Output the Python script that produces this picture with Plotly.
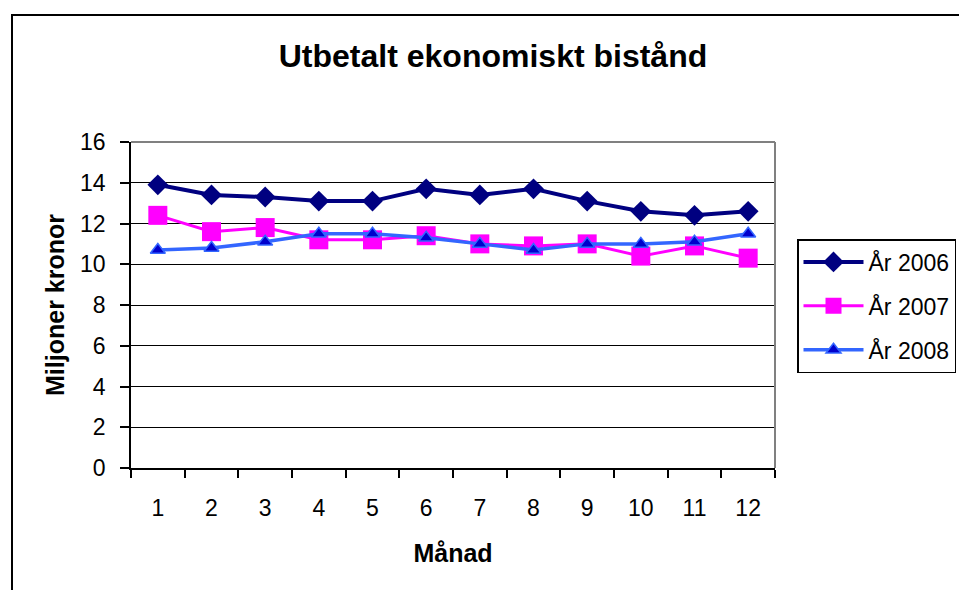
import plotly.graph_objects as go

months = ["1", "2", "3", "4", "5", "6", "7", "8", "9", "10", "11", "12"]
y2006 = [13.9, 13.4, 13.3, 13.1, 13.1, 13.7, 13.4, 13.7, 13.1, 12.6, 12.4, 12.6]
y2007 = [12.4, 11.6, 11.8, 11.2, 11.2, 11.4, 11.0, 10.9, 11.0, 10.4, 10.9, 10.3]
y2008 = [10.7, 10.8, 11.1, 11.5, 11.5, 11.3, 11.0, 10.7, 11.0, 11.0, 11.1, 11.5]
names = ["År 2006", "År 2007", "År 2008"]
ytick_vals = [0, 2, 4, 6, 8, 10, 12, 14, 16]

FONT = "Liberation Sans, Arial, sans-serif"

fig = go.Figure()
fig.add_trace(go.Scatter(
    x=months, y=y2006, name=names[0], mode="lines+markers", legendgroup="a",
    line=dict(color="#000080", width=4),
    marker=dict(symbol="diamond", size=16, color="#000080")))
fig.add_trace(go.Scatter(
    x=months, y=y2007, name=names[1], mode="lines+markers", legendgroup="b",
    line=dict(color="#FF00FF", width=3),
    marker=dict(symbol="square", size=19, color="#FF00FF")))
fig.add_trace(go.Scatter(
    x=months, y=y2008, name=names[2], mode="lines+markers", legendgroup="c",
    line=dict(color="#3366FF", width=3.5),
    marker=dict(symbol="triangle-up", size=13, color="#0000CC",
                line=dict(color="#3366FF", width=1.5))))

L, R, T, B = 131, 775, 142, 468
W, H = 959, 590
pw, ph = R - L, B - T

fig.update_layout(
    width=W, height=H,
    margin=dict(l=L, r=W - R, t=T, b=H - B, autoexpand=False),
    paper_bgcolor="white", plot_bgcolor="white",
    font=dict(family=FONT, color="black"),
    title=dict(text="<b>Utbetalt ekonomiskt bistånd</b>", x=493 / W, xanchor="center",
               y=1 - 56 / H, yanchor="middle", font=dict(size=32, family=FONT)),
    legend=dict(x=(797 - L) / pw, y=(B - 239) / ph, xanchor="left", yanchor="top",
                bordercolor="black", borderwidth=1.5, font=dict(size=23, family=FONT),
                tracegroupgap=11, bgcolor="white", itemwidth=60),
    showlegend=True,
)
fig.update_xaxes(
    type="category", categoryorder="array", categoryarray=months,
    range=[-0.5, len(months) - 0.5],
    tickson="boundaries", ticks="outside", ticklen=8, tickwidth=1.5, tickcolor="black",
    showline=True, linecolor="black", linewidth=1.5, showgrid=False,
    tickfont=dict(size=23), ticklabelstandoff=19,
    title=dict(text="<b>Månad</b>", font=dict(size=25), standoff=24),
)
fig.update_yaxes(
    range=[0, 16], tickvals=ytick_vals, ticks="outside", ticklen=9, tickwidth=1.5,
    tickcolor="black", showline=True, linecolor="black", linewidth=1.5,
    showgrid=True, gridcolor="black", gridwidth=1.2, zeroline=False,
    tickfont=dict(size=23), ticklabelstandoff=10,
    title=dict(text="<b>Miljoner kronor</b>", font=dict(size=25), standoff=8),
)
# plot-area border (gray) on top and right
fig.add_shape(type="line", xref="paper", yref="paper", x0=0, x1=1, y0=1, y1=1,
              line=dict(color="#808080", width=2))
fig.add_shape(type="line", xref="paper", yref="paper", x0=1, x1=1, y0=0, y1=1,
              line=dict(color="#808080", width=2))
# outer chart border
fig.add_shape(type="rect", xref="paper", yref="paper",
              x0=(12 - L) / pw, x1=1.5, y0=-0.5, y1=(B - 15) / ph,
              line=dict(color="black", width=2), layer="below")

fig.write_html("out.html", config={"displayModeBar": False},
               post_script="document.body.style.margin='0';document.body.style.overflow='hidden';")
